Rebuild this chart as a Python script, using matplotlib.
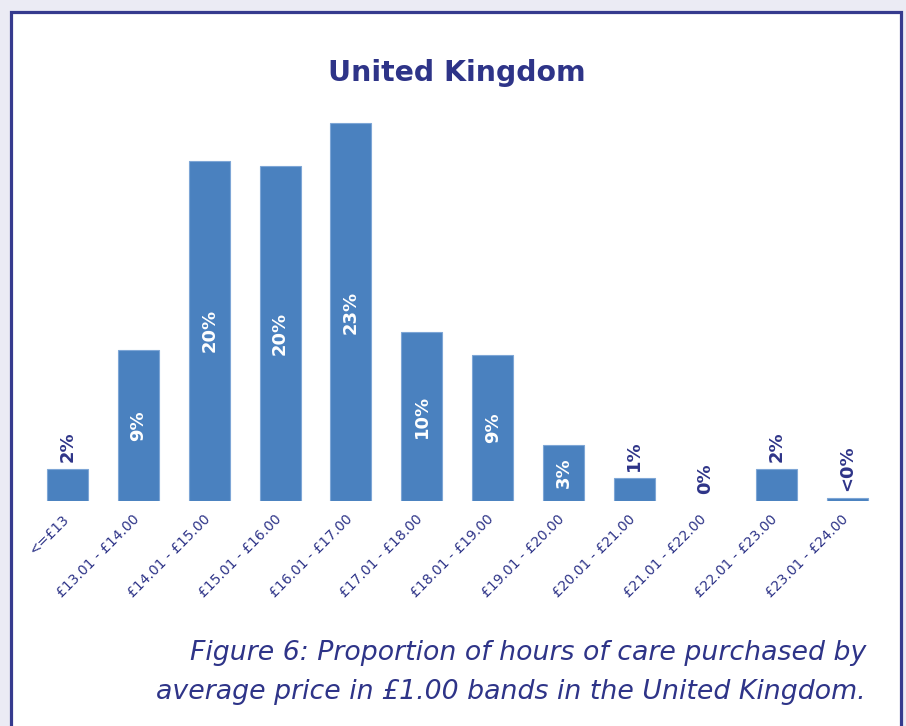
import matplotlib.pyplot as plt
from matplotlib.patches import Rectangle
from matplotlib.transforms import ScaledTranslation

# price bands and share of hours purchased (%)
bands = ["<=£13", "£13.01 - £14.00", "£14.01 - £15.00", "£15.01 - £16.00",
         "£16.01 - £17.00", "£17.01 - £18.00", "£18.01 - £19.00",
         "£19.01 - £20.00", "£20.01 - £21.00", "£21.01 - £22.00",
         "£22.01 - £23.00", "£23.01 - £24.00"]
share = [1.95, 9.2, 20.7, 20.4, 23.0, 10.3, 8.9, 3.4, 1.4, 0.0, 1.95, 0.2]
share_labels = ["2%", "9%", "20%", "20%", "23%", "10%", "9%", "3%",
                "1%", "0%", "2%", "<0%"]

title = "United Kingdom"
caption = ["Figure 6: Proportion of hours of care purchased by",
           "average price in £1.00 bands in the United Kingdom."]

W, H = 906, 726
navy = "#2e3488"
bar_col = "#4a81bf"


def fx(x):
    return x / W


def fy(y):
    return 1 - y / H


def main():
    fig = plt.figure(figsize=(W / 100, H / 100), dpi=100, facecolor="#ebebf4")

    # white panel with dark border
    fig.patches.append(Rectangle((fx(10.5), fy(740)), fx(890), 740 / H - 11.5 / H,
                                 transform=fig.transFigure, facecolor="white",
                                 edgecolor="#363b8e", linewidth=2.3, zorder=-5))

    ax = fig.add_axes([fx(32), fy(501), fx(882.5 - 32), (501 - 90) / H])
    ax.set_zorder(2)
    ax.set_facecolor("none")
    x = list(range(len(bands)))
    ax.bar(x, share, width=0.58, color=bar_col, edgecolor="#7ea6d6",
           linewidth=[0.8 if v > 0 else 0 for v in share])
    ax.set_xlim(-0.5, len(bands) - 0.5)
    ax.set_ylim(0, 25)
    for s in ax.spines.values():
        s.set_visible(False)
    ax.set_yticks([])
    ax.set_xticks(x)
    ax.set_xticklabels(bands, rotation=45, ha="right", fontsize=10, color=navy)
    ax.tick_params(axis="x", length=0, pad=8)
    shift = ScaledTranslation(4 / 100, 0, fig.dpi_scale_trans)
    for t in ax.get_xticklabels():
        t.set_transform(t.get_transform() + shift)

    for i, (v, lab) in enumerate(zip(share, share_labels)):
        if v > 3:
            ax.text(i, v / 2, lab, rotation=90, ha="center", va="center",
                    color="white", fontsize=13, fontweight="bold")
        else:
            ax.annotate(lab, (i, v), xytext=(0, 7), textcoords="offset pixels",
                        rotation=90, ha="center", va="bottom",
                        color=navy, fontsize=13, fontweight="bold")

    fig.text(fx(457), fy(81), title, ha="center", va="baseline",
             fontsize=20.4, fontweight="bold", color=navy)
    fig.text(fx(866), fy(660), caption[0], ha="right", va="baseline",
             fontsize=19.3, style="italic", color=navy)
    fig.text(fx(866), fy(699), caption[1], ha="right", va="baseline",
             fontsize=19.3, style="italic", color=navy)

    fig.savefig("out.png", dpi=100, facecolor=fig.get_facecolor())


if __name__ == "__main__":
    main()
